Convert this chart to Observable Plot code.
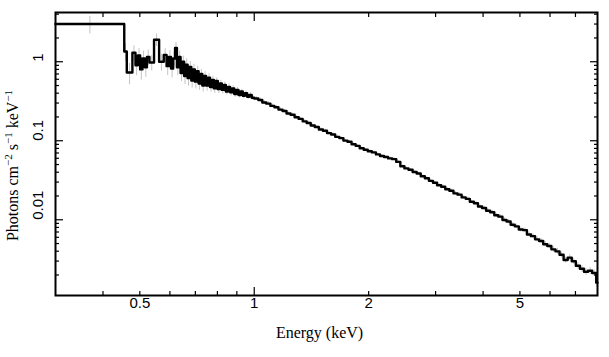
<!DOCTYPE html>
<html><head><meta charset="utf-8">
<script src="https://cdn.jsdelivr.net/npm/d3@7"></script>
<script src="https://cdn.jsdelivr.net/npm/@observablehq/plot@0.6"></script>
<style>body{margin:0;background:#fff} svg{display:block}</style>
</head><body><div id="chart"></div>
<script>
// Bin edges (keV); last entry closes the last bin
const binEdges = [
  0.3, 0.455, 0.462, 0.478, 0.487, 0.494, 0.501, 0.508, 0.515, 0.522,
  0.530, 0.545, 0.562, 0.578, 0.588, 0.596, 0.604, 0.612, 0.619, 0.626,
  0.633, 0.640, 0.647, 0.654, 0.661, 0.668, 0.675, 0.683, 0.690, 0.698,
  0.706, 0.714, 0.722, 0.730, 0.738, 0.747, 0.756, 0.765, 0.774, 0.783,
  0.792, 0.802, 0.812, 0.822, 0.832, 0.842, 0.853, 0.864, 0.875, 0.886,
  0.897, 0.909, 0.921, 0.933, 0.945, 0.958, 0.971, 0.985,
  1.000, 1.025, 1.050, 1.076, 1.103, 1.130, 1.158, 1.187, 1.216, 1.246,
  1.277, 1.309, 1.341, 1.374, 1.408, 1.443, 1.479, 1.516, 1.554, 1.593,
  1.633, 1.674, 1.716, 1.759, 1.803, 1.848, 1.894, 1.941, 1.989, 2.039,
  2.090, 2.142, 2.195, 2.250, 2.306, 2.364, 2.423, 2.484, 2.546, 2.610,
  2.675, 2.742, 2.811, 2.881, 2.953, 3.027, 3.103, 3.181, 3.261, 3.343,
  3.427, 3.513, 3.601, 3.691, 3.783, 3.878, 3.975, 4.074, 4.176, 4.281,
  4.388, 4.498, 4.611, 4.727, 4.845, 4.966, 5.090, 5.217, 5.347, 5.481,
  5.618, 5.758, 5.902, 6.050, 6.201, 6.356, 6.515, 6.678, 6.845, 7.016,
  7.191, 7.371, 7.555, 7.744, 7.938, 8.0
];
// Photons cm^-2 s^-1 keV^-1, one value per bin
const flux = [
  3.0, 1.35, 0.73, 1.3, 0.9, 1.2, 0.8, 1.1, 0.85, 1.15,
  0.98, 1.9, 1.0, 1.22, 0.88, 1.15, 0.82, 1.1, 1.5, 0.85,
  1.15, 0.72, 1.0, 0.66, 0.92, 0.62, 0.86, 0.58, 0.8, 0.56,
  0.76, 0.53, 0.7, 0.5, 0.66, 0.5, 0.63, 0.48, 0.59, 0.46,
  0.57, 0.45, 0.53, 0.44, 0.51, 0.42, 0.48, 0.41, 0.46, 0.39,
  0.44, 0.38, 0.42, 0.37, 0.40, 0.36, 0.38, 0.35,
  0.343, 0.328, 0.305, 0.295, 0.276, 0.266, 0.248, 0.238, 0.221, 0.213,
  0.198, 0.189, 0.176, 0.168, 0.156, 0.149, 0.139, 0.134, 0.125, 0.120,
  0.112, 0.108, 0.1005, 0.0970, 0.0905, 0.0862, 0.0805, 0.0768, 0.0735, 0.0712,
  0.0672, 0.0640, 0.0622, 0.0598, 0.0585, 0.0540, 0.0475, 0.0447, 0.0429, 0.0403,
  0.0385, 0.0355, 0.0336, 0.0311, 0.0294, 0.0274, 0.0262, 0.0243, 0.0233, 0.0216,
  0.0208, 0.0192, 0.0184, 0.0169, 0.0162, 0.0147, 0.0141, 0.0130, 0.01245, 0.01140,
  0.01095, 0.00995, 0.00950, 0.00865, 0.00825, 0.00752, 0.00740, 0.00652, 0.00620, 0.00565,
  0.00538, 0.00490, 0.00466, 0.00422, 0.00398, 0.00360, 0.00310, 0.00332, 0.00298, 0.00262,
  0.00240, 0.00220, 0.00226, 0.00212, 0.00160
];
// Relative 1-sigma error per bin
const errFrac = [
  0.25, 0.25, 0.3, 0.22, 0.26, 0.22, 0.27, 0.24, 0.25, 0.22,
  0.22, 0.18, 0.24, 0.2, 0.24, 0.2, 0.24, 0.2, 0.17, 0.22,
  0.19, 0.22, 0.18, 0.22, 0.18, 0.21, 0.17, 0.2, 0.16, 0.19,
  0.15, 0.18, 0.14, 0.17, 0.13, 0.15, 0.12, 0.14, 0.11, 0.13,
  0.1, 0.12, 0.1, 0.11, 0.09, 0.1, 0.09, 0.1, 0.08, 0.09,
  0.08, 0.08, 0.07, 0.08, 0.07, 0.07, 0.07, 0.07,
  0.06, 0.06, 0.06, 0.06, 0.055, 0.055, 0.055, 0.05, 0.05, 0.05,
  0.05, 0.05, 0.05, 0.05, 0.05, 0.045, 0.045, 0.045, 0.045, 0.045,
  0.045, 0.04, 0.04, 0.04, 0.04, 0.04, 0.04, 0.04, 0.04, 0.04,
  0.04, 0.04, 0.04, 0.04, 0.04, 0.04, 0.04, 0.04, 0.04, 0.04,
  0.04, 0.04, 0.045, 0.045, 0.045, 0.045, 0.045, 0.045, 0.05, 0.05,
  0.05, 0.05, 0.05, 0.05, 0.055, 0.055, 0.055, 0.055, 0.06, 0.06,
  0.06, 0.06, 0.065, 0.065, 0.065, 0.07, 0.07, 0.07, 0.075, 0.075,
  0.075, 0.08, 0.08, 0.08, 0.085, 0.085, 0.09, 0.09, 0.09, 0.095,
  0.095, 0.1, 0.1, 0.1, 0.12
];
const xTicksMinor = [0.4, 0.5, 0.6, 0.7, 0.8, 0.9, 2, 3, 4, 5, 6, 7];
const xTicksMajor = [1];
const xTickLabels = [0.5, 1, 2, 5];
const yTicksMinor = [0.002, 0.003, 0.004, 0.005, 0.006, 0.007, 0.008, 0.009,
  0.02, 0.03, 0.04, 0.05, 0.06, 0.07, 0.08, 0.09,
  0.2, 0.3, 0.4, 0.5, 0.6, 0.7, 0.8, 0.9, 2, 3, 4];
const yTicksMajor = [0.01, 0.1, 1];
const yTickLabels = ["0.01", "0.1", "1"];
const xTitle = "Energy (keV)";
const yTitleParts = [["Photons cm", false], ["\u22122", true], [" s", false], ["\u22121", true], [" keV", false], ["\u22121", true]];

const steps = flux.map((f, i) => ({e: binEdges[i], f}));
steps.push({e: binEdges[flux.length], f: flux[flux.length - 1]});
const bars = flux.map((f, i) => ({
  e: Math.sqrt(binEdges[i] * binEdges[i + 1]),
  lo: f * (1 - errFrac[i]),
  hi: f * (1 + errFrac[i])
}));

const fontSans = "'Liberation Sans', Arial, Helvetica, sans-serif";
const fontSerif = "'Liberation Serif', 'Times New Roman', serif";

const tickMarks = [];
for (const a of ["bottom", "top"]) {
  tickMarks.push(Plot.axisX(xTicksMinor, {anchor: a, tickSize: -4, tickFormat: () => "", label: null, strokeWidth: 1.2}));
  tickMarks.push(Plot.axisX(xTicksMajor, {anchor: a, tickSize: -8, tickFormat: () => "", label: null, strokeWidth: 1.2}));
}
for (const a of ["left", "right"]) {
  tickMarks.push(Plot.axisY(yTicksMinor, {anchor: a, tickSize: -4, tickFormat: () => "", label: null, strokeWidth: 1.2}));
  tickMarks.push(Plot.axisY(yTicksMajor, {anchor: a, tickSize: -8, tickFormat: () => "", label: null, strokeWidth: 1.2}));
}

const plot = Plot.plot({
  width: 609, height: 357,
  marginLeft: 55, marginRight: 12, marginTop: 12, marginBottom: 62,
  x: {type: "log", domain: [0.3, 8]},
  y: {type: "log", domain: [0.0011, 4.2]},
  style: {background: "white", overflow: "visible"},
  marks: [
    Plot.ruleX(bars, {x: "e", y1: "lo", y2: "hi", stroke: "#c4c4c4", strokeWidth: 1}),
    Plot.line(steps, {x: "e", y: "f", curve: "step-after", stroke: "black", strokeWidth: 2.4}),
    Plot.frame({stroke: "black", strokeWidth: 2}),
    ...tickMarks,
    Plot.text(xTickLabels, {x: d => d, frameAnchor: "bottom", dy: 12.5, text: d => String(d), fontSize: 15, fontFamily: fontSans, fill: "black"}),
    Plot.text(yTickLabels, {y: d => +d, frameAnchor: "left", dx: -17.5, rotate: -90, text: d => d, fontSize: 15, fontFamily: fontSans, fill: "black"}),
    Plot.text([xTitle], {frameAnchor: "bottom", dy: 42.5, dx: -7, text: d => d, fontSize: 16, fontFamily: fontSerif, fill: "black"})
  ]
});
document.getElementById("chart").appendChild(plot);

// y-axis title with superscripts
const svgEl = plot.tagName.toLowerCase() === "svg" ? plot : plot.querySelector("svg");
const t = d3.select(svgEl).append("text")
  .attr("transform", "translate(17.5,165.5) rotate(-90)")
  .attr("text-anchor", "middle")
  .attr("dy", "0.35em")
  .attr("font-family", fontSerif)
  .attr("font-size", 16)
  .attr("fill", "black");
let raised = false;
for (const [s, sup] of yTitleParts) {
  const ts = t.append("tspan").text(s);
  if (sup) { ts.attr("font-size", 11).attr("dy", raised ? 0 : -6); raised = true; }
  else { ts.attr("dy", raised ? 6 : 0); raised = false; }
}
</script>
</body></html>
